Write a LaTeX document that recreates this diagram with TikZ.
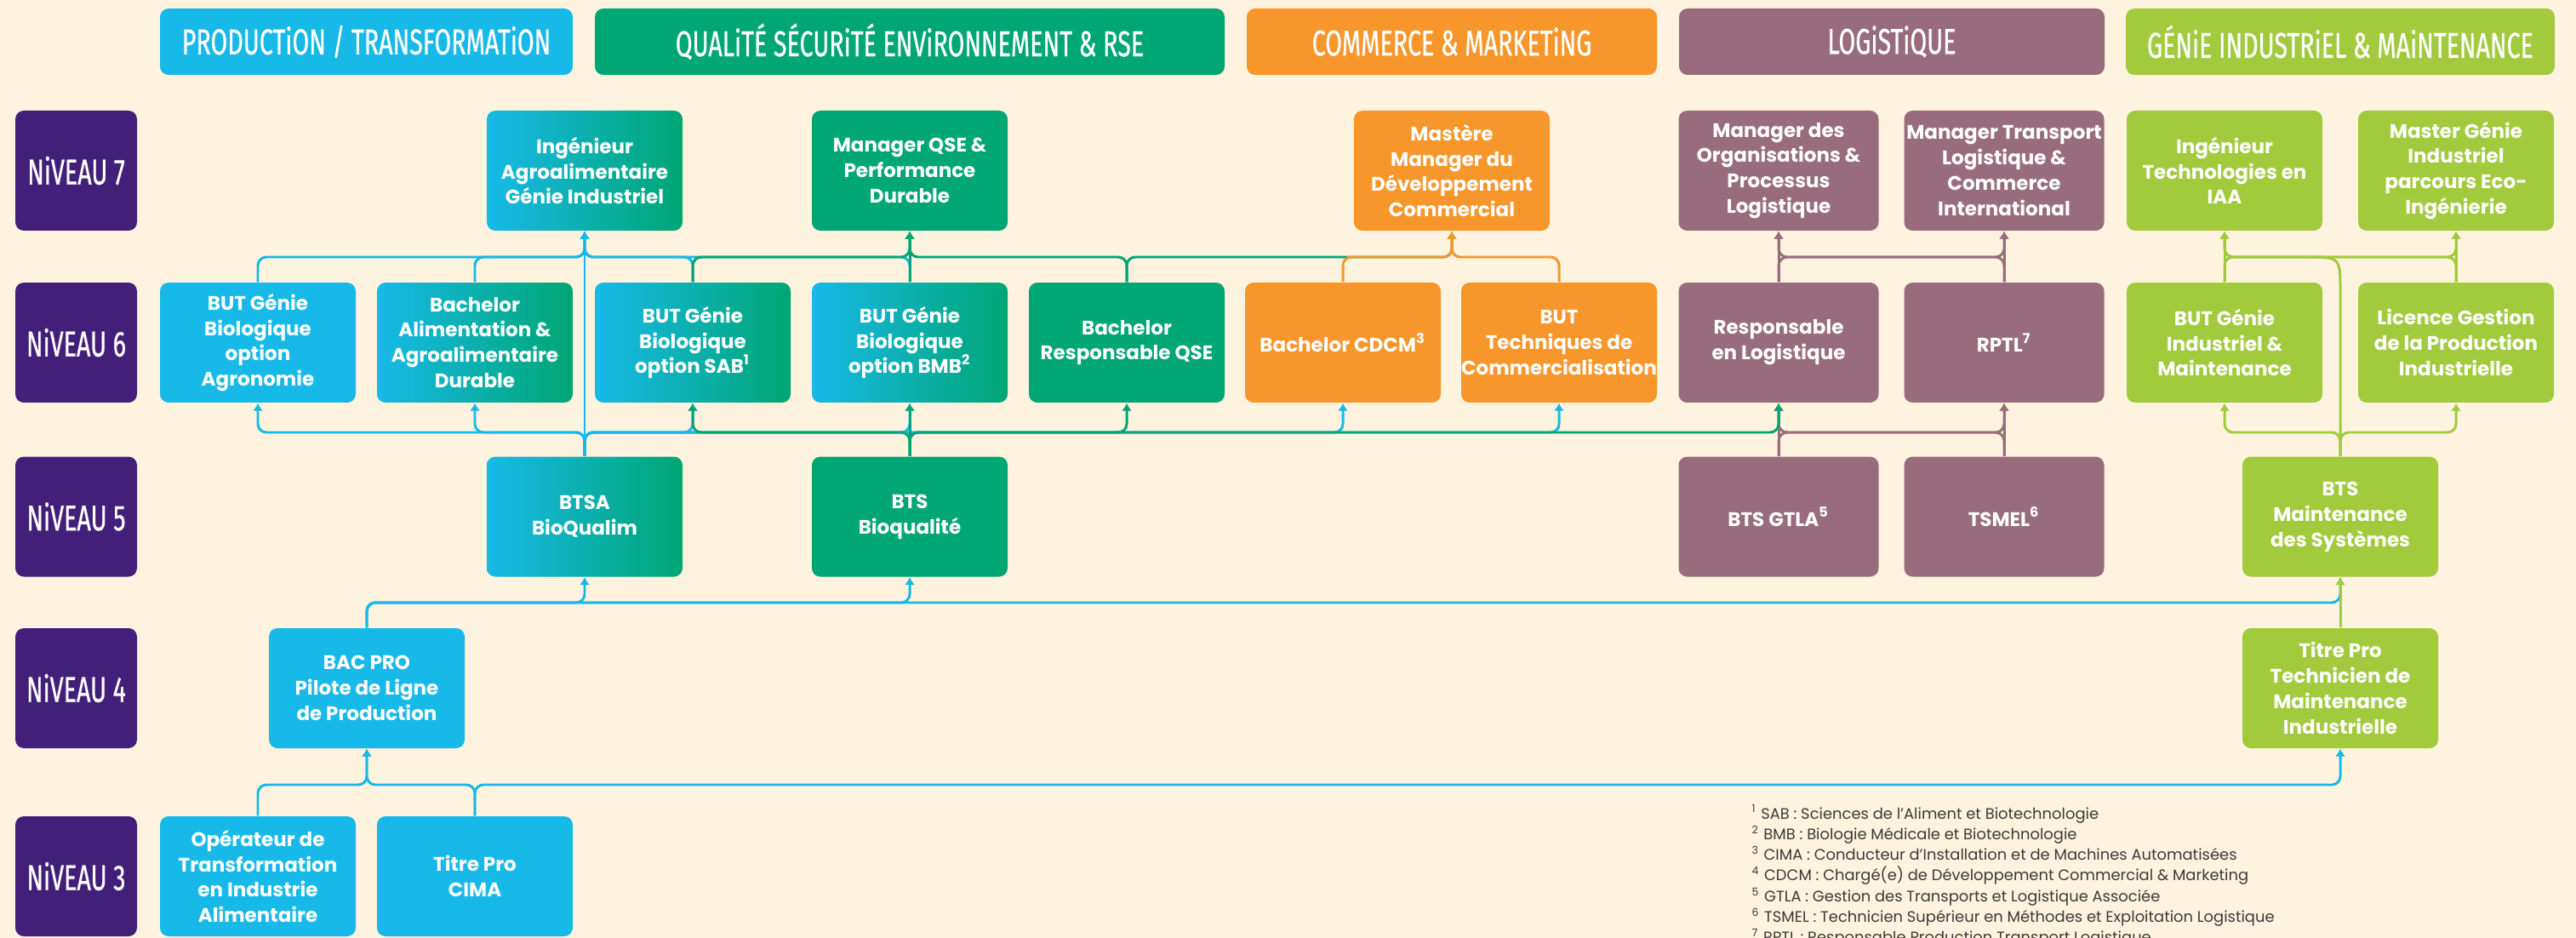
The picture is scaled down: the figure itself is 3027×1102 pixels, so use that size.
\documentclass[tikz,border=0pt]{standalone}
\usepackage{fontspec}
\setmainfont{Poppins}
\newfontfamily\headfont{Fira Sans}[FakeStretch=0.68, FakeBold=0.6]
\usepackage{tikz}
\usetikzlibrary{calc, arrows.meta}
\definecolor{cream}{HTML}{FEF3DE}
\definecolor{cblue}{HTML}{17B9E8}
\definecolor{cgreen}{HTML}{00A673}
\definecolor{corange}{HTML}{F7962A}
\definecolor{cmauve}{HTML}{986C7C}
\definecolor{clgreen}{HTML}{A1CA3D}
\definecolor{cpurple}{HTML}{42207A}
\definecolor{cnote}{HTML}{3A3A3A}
\tikzstyle{arrow}  = [line width=0.85pt, rounded corners=1mm, -{Latex[length=0.9mm,width=1.2mm]}]
\tikzstyle{box}    = [rounded corners=1mm, inner sep=0pt, minimum width=23mm, minimum height=14.1mm, align=center, text=white, font=\fontsize{6.55}{8.5}\selectfont\bfseries]
\tikzstyle{grad}   = [box, left color=cblue, right color=cgreen]
\tikzstyle{head}   = [rounded corners=1mm, inner sep=0pt, minimum height=7.8mm, text=white, font=\headfont\fontsize{12}{14}\selectfont]
\tikzstyle{niveau} = [head, fill=cpurple, minimum width=14.3mm, minimum height=14.1mm]
\tikzstyle{note}   = [anchor=base west, inner sep=0pt, text=cnote, font=\fontsize{5.1}{6.9}\selectfont]

\begin{document}
\begin{tikzpicture}[x=0.1mm, y=-0.1mm]
  \useasboundingbox (0,0) rectangle (3027,1102);
  \fill[cream] (0,0) rectangle (3027,1102);

  %column headers
  \node[head, fill=cblue,   minimum width=48.5mm] (hprod) at (430.5,49) {PRODUCTiON / TRANSFORMATiON};
  \node[head, fill=cgreen,  minimum width=74mm]   (hqse)  at (1069,49)  {QUALiTÉ SÉCURiTÉ ENViRONNEMENT \& RSE};
  \node[head, fill=corange, minimum width=48.2mm] (hcom)  at (1706,49)  {COMMERCE \& MARKETiNG};
  \node[head, fill=cmauve,  minimum width=50mm]   (hlog)  at (2223,49)  {LOGiSTiQUE};
  \node[head, fill=clgreen, minimum width=50.4mm] (hgim)  at (2750,49)  {GÉNiE INDUSTRiEL \& MAiNTENANCE};

  %level labels on the left
  \foreach \n/\y in {7/200.5, 6/402.5, 5/607, 4/808.5, 3/1029.5}{
    \node[niveau] (niv\n) at (89.5,\y) {NiVEAU \n};
  }

  %level 7
  \node[grad] (ingagro) at (687,200.5) {Ingénieur\\Agroalimentaire\\Génie Industriel};
  \node[box, fill=cgreen] (mqse) at (1069,200.5) {Manager QSE \&\\Performance\\Durable};
  \node[box, fill=corange] (mastere) at (1706,200.5) {Mastère\\Manager du\\Développement\\Commercial};
  \node[box, fill=cmauve, minimum width=23.5mm] (morga) at (2090,200.5) {Manager des\\Organisations \&\\Processus\\Logistique};
  \node[box, fill=cmauve, minimum width=23.5mm] (mtrans) at (2355,200.5) {Manager Transport\\Logistique \&\\Commerce\\International};
  \node[box, fill=clgreen] (ingiaa) at (2614,200.5) {Ingénieur\\Technologies en\\IAA};
  \node[box, fill=clgreen] (mastergi) at (2886,200.5) {Master Génie\\Industriel\\parcours Eco-\\Ingénierie};

  %level 6
  \node[box, fill=cblue] (butagro) at (303,402.5) {BUT Génie\\Biologique\\option\\Agronomie};
  \node[grad] (bachalim) at (558,402.5) {Bachelor\\Alimentation \&\\Agroalimentaire\\Durable};
  \node[grad] (butsab) at (814,402.5) {BUT Génie\\Biologique\\option SAB\textsuperscript{1}};
  \node[grad] (butbmb) at (1069,402.5) {BUT Génie\\Biologique\\option BMB\textsuperscript{2}};
  \node[box, fill=cgreen] (bachqse) at (1324,402.5) {Bachelor\\Responsable QSE};
  \node[box, fill=corange] (cdcm) at (1578,402.5) {Bachelor CDCM\textsuperscript{3}};
  \node[box, fill=corange] (butc) at (1832,402.5) {BUT\\Techniques de\\Commercialisation};
  \node[box, fill=cmauve, minimum width=23.5mm] (resplog) at (2090,402.5) {Responsable\\en Logistique};
  \node[box, fill=cmauve, minimum width=23.5mm] (rptl) at (2355,402.5) {RPTL\textsuperscript{7}};
  \node[box, fill=clgreen] (butgim) at (2614,402.5) {BUT Génie\\Industriel \&\\Maintenance};
  \node[box, fill=clgreen] (licence) at (2886,402.5) {Licence Gestion\\de la Production\\Industrielle};

  %level 5
  \node[grad] (btsa) at (687,607) {BTSA\\BioQualim};
  \node[box, fill=cgreen] (bioq) at (1069,607) {BTS\\Bioqualité};
  \node[box, fill=cmauve, minimum width=23.5mm] (gtla) at (2090,607) {BTS GTLA\textsuperscript{5}};
  \node[box, fill=cmauve, minimum width=23.5mm] (tsmel) at (2355,607) {TSMEL\textsuperscript{6}};
  \node[box, fill=clgreen] (btsmaint) at (2750,607) {BTS\\Maintenance\\des Systèmes};

  %level 4
  \node[box, fill=cblue] (bacpro) at (431,808.5) {BAC PRO\\Pilote de Ligne\\de Production};
  \node[box, fill=clgreen] (tmi) at (2750,808.5) {Titre Pro\\Technicien de\\Maintenance\\Industrielle};

  %level 3
  \node[box, fill=cblue] (operateur) at (303,1029.5) {Opérateur de\\Transformation\\en Industrie\\Alimentaire};
  \node[box, fill=cblue] (cima) at (558,1029.5) {Titre Pro\\CIMA};

  %buses between the levels
  \coordinate (bus67) at (0,302);
  \coordinate (bus56) at (0,508);
  \coordinate (bus45) at (0,708);
  \coordinate (bus34) at (0,922);

  %level 6 -> level 7
  \foreach \s in {butagro,bachalim,butsab,butbmb}
    \draw[arrow,cblue] (\s.north) -- (\s.north |- bus67) -- (ingagro.south |- bus67) -- (ingagro.south);
  \foreach \s/\t in {butsab/mqse, bachqse/mqse, bachqse/mastere}
    \draw[arrow,cgreen] (\s.north) -- (\s.north |- bus67) -- (\t.south |- bus67) -- (\t.south);
  \draw[arrow,cgreen] (butbmb.north) -- (mqse.south);
  \foreach \s in {cdcm,butc}
    \draw[arrow,corange] (\s.north) -- (\s.north |- bus67) -- (mastere.south |- bus67) -- (mastere.south);
  \foreach \s/\t in {resplog/mtrans, rptl/morga}
    \draw[arrow,cmauve] (\s.north) -- (\s.north |- bus67) -- (\t.south |- bus67) -- (\t.south);
  \draw[arrow,cmauve] (resplog.north) -- (morga.south);
  \draw[arrow,cmauve] (rptl.north) -- (mtrans.south);
  \foreach \s/\t in {butgim/mastergi, licence/ingiaa}
    \draw[arrow,clgreen] (\s.north) -- (\s.north |- bus67) -- (\t.south |- bus67) -- (\t.south);
  \draw[arrow,clgreen] (butgim.north) -- (ingiaa.south);
  \draw[arrow,clgreen] (licence.north) -- (mastergi.south);
  \draw[arrow,clgreen] (btsmaint.north) -- ($(btsmaint.north |- bus67)+(0,50)$)
    .. controls (btsmaint.north |- bus67) .. ($(btsmaint.north |- bus67)+(-50,0)$)
    -- (ingiaa.south |- bus67) -- (ingiaa.south);

  %level 5 -> level 6
  \foreach \t in {butagro,bachalim,butsab,butbmb,cdcm,butc}
    \draw[arrow,cblue] (btsa.north) -- (btsa.north |- bus56) -- (\t.south |- bus56) -- (\t.south);
  \draw[arrow,cblue] (btsa.north) -- (ingagro.south);
  \foreach \s/\t in {gtla/rptl, tsmel/resplog}
    \draw[arrow,cmauve] (\s.north) -- (\s.north |- bus56) -- (\t.south |- bus56) -- (\t.south);
  \draw[arrow,cmauve] (gtla.north) -- (resplog.south);
  \draw[arrow,cmauve] (tsmel.north) -- (rptl.south);
  \foreach \t in {butsab,bachqse,resplog}
    \draw[arrow,cgreen] (bioq.north) -- (bioq.north |- bus56) -- (\t.south |- bus56) -- (\t.south);
  \draw[arrow,cgreen] (bioq.north) -- (butbmb.south);
  \foreach \t in {butgim,licence}
    \draw[arrow,clgreen] (btsmaint.north) -- (btsmaint.north |- bus56) -- (\t.south |- bus56) -- (\t.south);

  %level 4 -> level 5
  \foreach \t in {btsa,bioq,btsmaint}
    \draw[arrow,cblue] (bacpro.north) -- (bacpro.north |- bus45) -- (\t.south |- bus45) -- (\t.south);
  \draw[arrow,clgreen] (tmi.north) -- (btsmaint.south);

  %level 3 -> level 4
  \foreach \s/\t in {operateur/bacpro, cima/bacpro, cima/tmi}
    \draw[arrow,cblue] (\s.north) -- (\s.north |- bus34) -- (\t.south |- bus34) -- (\t.south);

  %footnotes
  \foreach \txt [count=\i] in {
    {\textsuperscript{1} SAB : Sciences de l’Aliment et Biotechnologie},
    {\textsuperscript{2} BMB : Biologie Médicale et Biotechnologie},
    {\textsuperscript{3} CIMA : Conducteur d'Installation et de Machines Automatisées},
    {\textsuperscript{4} CDCM : Chargé(e) de Développement Commercial \& Marketing},
    {\textsuperscript{5} GTLA : Gestion des Transports et Logistique Associée},
    {\textsuperscript{6} TSMEL : Technicien Supérieur en Méthodes et Exploitation Logistique},
    {\textsuperscript{7} RPTL : Responsable Production Transport Logistique}}{
    \node[note] (note\i) at (2058,{962+24.3*(\i-1)}) {\txt};
  }
\end{tikzpicture}
\end{document}
